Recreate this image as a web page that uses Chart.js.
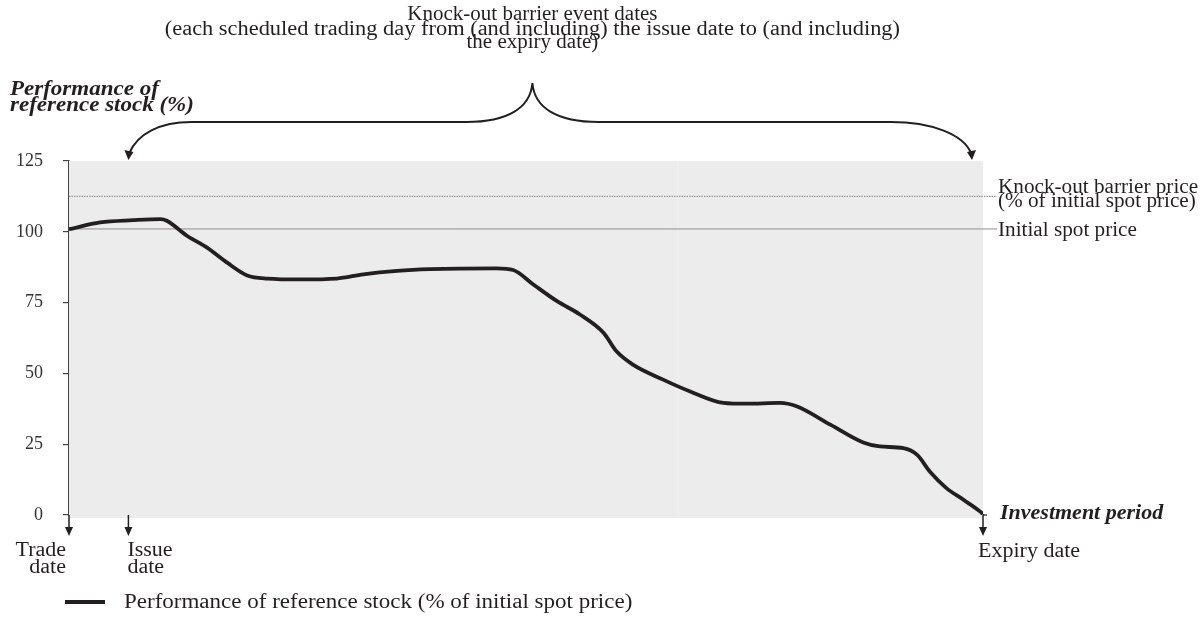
<!DOCTYPE html>
<html>
<head>
<meta charset="utf-8">
<script src="https://cdn.jsdelivr.net/npm/chart.js@4.4.1/dist/chart.umd.min.js"></script>
<style>
html,body{margin:0;padding:0;background:#fff;}
#wrap{position:relative;width:1201px;height:636px;}
canvas{display:block;}
</style>
</head>
<body>
<div id="wrap"><canvas id="c" width="1201" height="636"></canvas></div>
<script>
// ---- data ----
const periodPos = [0, 3.4, 7.0, 10.0, 10.7, 12.9, 15.1, 17.3, 19.5, 21.7, 25.3, 29.3, 32.2, 35.9, 39.5, 46.8, 48.6, 50.8, 53.4, 55.9, 58.5, 59.9, 61.7, 65.0, 67.9, 71.6, 74.1, 77.8, 79.6, 83.3, 86.9, 88.7, 91.3, 92.8, 94.2, 96.0, 97.9, 99.7, 100];
const performance = [100.9, 103.3, 104.1, 104.5, 103.9, 98.6, 94.4, 89.1, 84.6, 83.5, 83.2, 83.5, 85.0, 86.2, 86.8, 87.1, 86.5, 81.4, 75.5, 70.8, 64.3, 57.8, 53.1, 47.8, 43.7, 39.6, 39.3, 39.6, 38.4, 31.9, 25.6, 24.2, 23.6, 21.2, 15.3, 9.5, 5.3, 1.2, 0.3];
const yTicks = [0, 25, 50, 75, 100, 125];
const barrierLevel = [112.5];
const initialLevel = [101];
const datePos = [0, 6.5, 100];      // trade date, issue date, expiry date
const braceMid = [50.7];
const seriesLabel = 'Performance of reference stock (% of initial spot price)';
const titleLines = ['Knock-out barrier event dates', '(each scheduled trading day from (and including) the issue date to (and including)', 'the expiry date)'];

const points = periodPos.map((x, i) => ({x: x, y: performance[i]}));
const SERIF = '"Liberation Serif", "Times New Roman", serif';
const INK = '#231f20';
const TXT = '#231f20';
const SX = 1.1;

function txt(ctx, s, x, y, align, font, sx) {
  ctx.save();
  ctx.font = font;
  ctx.textAlign = align || 'left';
  ctx.textBaseline = 'alphabetic';
  ctx.translate(x, y);
  ctx.scale(sx || SX, 1);
  ctx.fillText(s, 0, 0);
  ctx.restore();
}

function arrowDown(ctx, x, y0, y1) {
  ctx.beginPath(); ctx.moveTo(x, y0); ctx.lineTo(x, y1 - 6); ctx.stroke();
  ctx.beginPath(); ctx.moveTo(x, y1); ctx.lineTo(x - 4, y1 - 9); ctx.lineTo(x + 4, y1 - 9); ctx.closePath(); ctx.fill();
}

const decor = {
  id: 'decor',
  beforeDatasetsDraw(chart) {
    const {ctx, chartArea: a, scales: {x, y}} = chart;
    ctx.save();
    ctx.fillStyle = '#ececec';
    ctx.fillRect(a.left, a.top, a.right - a.left, a.bottom - a.top + 3);
    ctx.fillStyle = '#efefef';
    ctx.fillRect(x.getPixelForValue(66.5), a.top, 1.5, a.bottom - a.top);
    const yb = y.getPixelForValue(barrierLevel[0]);
    ctx.strokeStyle = '#9a9a9a'; ctx.lineWidth = 1.2; ctx.setLineDash([1.5, 1]);
    ctx.beginPath(); ctx.moveTo(a.left, yb); ctx.lineTo(a.right + 14, yb); ctx.stroke();
    ctx.setLineDash([]);
    const yi = y.getPixelForValue(initialLevel[0]);
    ctx.strokeStyle = '#8f8f8f'; ctx.lineWidth = 1;
    ctx.beginPath(); ctx.moveTo(a.left, yi); ctx.lineTo(a.right + 14, yi); ctx.stroke();
    ctx.restore();
  },
  afterDraw(chart) {
    const {ctx, chartArea: a, scales: {x, y}} = chart;
    ctx.save();
    ctx.fillStyle = INK;
    ctx.lineWidth = 1.5; ctx.strokeStyle = '#444';
    ctx.beginPath(); ctx.moveTo(a.right, a.bottom); ctx.lineTo(a.right + 4, a.bottom); ctx.stroke();
    ctx.strokeStyle = INK; ctx.lineWidth = 1.5;
    datePos.forEach(p => arrowDown(ctx, x.getPixelForValue(p), a.bottom, a.bottom + 21));
    ctx.fillStyle = TXT;
    const F = '20px ' + SERIF;
    const FB = 'italic bold 20px ' + SERIF;
    const xt = x.getPixelForValue(datePos[0]);
    txt(ctx, 'Trade', xt - 3, a.bottom + 41, 'right', F);
    txt(ctx, 'date', xt - 3, a.bottom + 58, 'right', F);
    const xi = x.getPixelForValue(datePos[1]);
    txt(ctx, 'Issue', xi - 1, a.bottom + 41, 'left', F);
    txt(ctx, 'date', xi - 1, a.bottom + 58, 'left', F);
    const xe = x.getPixelForValue(datePos[2]);
    txt(ctx, 'Expiry date', xe - 5, a.bottom + 42, 'left', F);
    txt(ctx, 'Investment period', a.right + 17, a.bottom + 4, 'left', FB);
    txt(ctx, 'Performance of', 10, 95, 'left', FB, 1.15);
    txt(ctx, 'reference stock (%)', 10, 111, 'left', FB, 1.15);
    const yb = y.getPixelForValue(barrierLevel[0]);
    const yi = y.getPixelForValue(initialLevel[0]);
    txt(ctx, 'Knock-out barrier price', a.right + 15, yb - 3, 'left', F, 1.06);
    txt(ctx, '(% of initial spot price)', a.right + 15, yb + 11, 'left', F, 1.06);
    txt(ctx, 'Initial spot price', a.right + 15, yi + 7, 'left', F, 1.06);
    const cx = x.getPixelForValue(braceMid[0]);
    txt(ctx, titleLines[0], cx, 20, 'center', F, 1.05);
    txt(ctx, titleLines[1], cx, 35, 'center', F, 1.12);
    txt(ctx, titleLines[2], cx, 48, 'center', F, 1.05);
    // legend
    ctx.fillStyle = INK;
    ctx.fillRect(65, 600, 40, 4);
    ctx.fillStyle = TXT;
    txt(ctx, seriesLabel, 124, 608, 'left', F, 1.15);
    // brace
    const by = 122, px = cx, py = 83;
    const lx = xi + 1, rx = xe - 12;
    ctx.lineWidth = 2; ctx.strokeStyle = INK;
    ctx.beginPath();
    ctx.moveTo(lx, a.top - 8);
    ctx.bezierCurveTo(lx + 8, by + 12, lx + 30, by, lx + 62, by);
    ctx.lineTo(px - 66, by);
    ctx.bezierCurveTo(px - 25, by, px - 2, by - 14, px, py);
    ctx.bezierCurveTo(px + 2, by - 14, px + 25, by, px + 66, by);
    ctx.lineTo(rx - 80, by);
    ctx.bezierCurveTo(rx - 40, by, rx - 8, by + 12, rx, a.top - 8);
    ctx.stroke();
    ctx.fillStyle = INK;
    ctx.beginPath();
    ctx.moveTo(lx - 1, a.top - 1); ctx.lineTo(lx - 5, a.top - 11); ctx.lineTo(lx + 4, a.top - 9); ctx.closePath(); ctx.fill();
    ctx.beginPath();
    ctx.moveTo(rx + 1, a.top - 1); ctx.lineTo(rx - 4, a.top - 9); ctx.lineTo(rx + 5, a.top - 11); ctx.closePath(); ctx.fill();
    ctx.restore();
  }
};

new Chart(document.getElementById('c'), {
  type: 'line',
  data: {
    datasets: [{
      label: seriesLabel,
      data: points,
      borderColor: INK,
      backgroundColor: INK,
      borderWidth: 3.8,
      pointRadius: 0,
      cubicInterpolationMode: 'monotone',
      fill: false
    }]
  },
  options: {
    responsive: false,
    animation: false,
    devicePixelRatio: 1,
    layout: {padding: {left: 0, right: 218, top: 161, bottom: 0}},
    scales: {
      x: {
        type: 'linear', min: 0, max: 100,
        ticks: {display: false},
        grid: {display: false, drawTicks: false},
        border: {display: true, color: '#444', width: 1.5},
        afterFit(s) { s.height = 121; }
      },
      y: {
        min: 0, max: 125,
        afterBuildTicks(s) { s.ticks = yTicks.map(v => ({value: v})); },
        ticks: {color: '#333', padding: 20, font: {family: SERIF, size: 18}},
        grid: {drawOnChartArea: false, drawTicks: true, tickLength: 6, color: '#444', lineWidth: 1.2},
        border: {display: true, color: '#444', width: 1.5},
        afterFit(s) { s.width = 69; }
      }
    },
    plugins: {
      legend: {display: false},
      tooltip: {enabled: false}
    }
  },
  plugins: [decor]
});
</script>
</body>
</html>
